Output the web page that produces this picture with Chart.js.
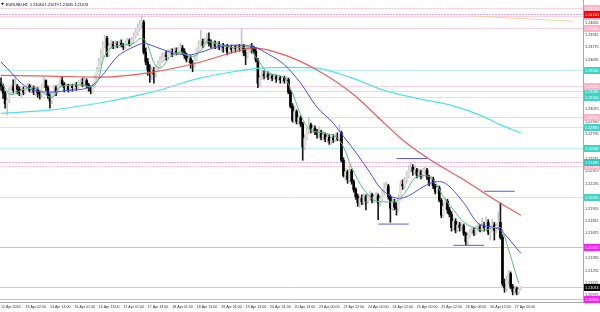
<!DOCTYPE html>
<html>
<head>
<meta charset="utf-8">
<script src="https://cdn.jsdelivr.net/npm/chart.js@4.4.1/dist/chart.umd.min.js"></script>
<style>
  html, body { margin: 0; padding: 0; background: #fff; overflow: hidden; }
  canvas { display: block; }
</style>
</head>
<body>
<canvas id="chart" width="600" height="312"></canvas>
<script>
// EURUSD H1 candles (one entry per hourly bar)
const openP = [
  1.2338,1.2334,1.2326,1.2314,1.2318,1.2327,1.2333,1.2329,1.2334,1.2330,1.2326,1.2329,1.2327,1.2332,1.2334,1.2329,
  1.2332,1.2327,1.2330,1.2326,1.2324,1.2334,1.2340,1.2332,1.2323,1.2317,1.2325,1.2332,1.2327,1.2334,1.2340,1.2336,
  1.2332,1.2335,1.2330,1.2334,1.2332,1.2335,1.2333,1.2337,1.2338,1.2336,1.2340,1.2335,1.2332,1.2328,1.2334,1.2343,
  1.2352,1.2361,1.2369,1.2380,1.2388,1.2369,1.2379,1.2381,1.2378,1.2381,1.2379,1.2382,1.2380,1.2378,1.2382,1.2385,
  1.2381,1.2386,1.2390,1.2395,1.2399,1.2403,1.2406,1.2372,1.2361,1.2352,1.2349,1.2352,1.2347,1.2354,1.2359,1.2363,
  1.2365,1.2369,1.2367,1.2371,1.2372,1.2370,1.2373,1.2372,1.2375,1.2377,1.2373,1.2368,1.2363,1.2365,1.2360,1.2358,
  1.2365,1.2375,1.2381,1.2384,1.2380,1.2384,1.2387,1.2382,1.2380,1.2382,1.2379,1.2381,1.2378,1.2380,1.2377,1.2379,
  1.2372,1.2377,1.2375,1.2378,1.2376,1.2378,1.2377,1.2379,1.2372,1.2368,1.2375,1.2378,1.2376,1.2373,1.2363,1.2337,
  1.2343,1.2347,1.2345,1.2347,1.2344,1.2345,1.2343,1.2344,1.2342,1.2343,1.2341,1.2343,1.2340,1.2341,1.2327,1.2311,
  1.2295,1.2305,1.2294,1.2298,1.2291,1.2265,1.2275,1.2282,1.2290,1.2284,1.2286,1.2282,1.2279,1.2282,1.2276,1.2279,
  1.2274,1.2276,1.2272,1.2275,1.2273,1.2276,1.2274,1.2281,1.2250,1.2233,1.2237,1.2228,1.2238,1.2226,1.2217,1.2209,
  1.2202,1.2207,1.2203,1.2209,1.2204,1.2209,1.2211,1.2205,1.2209,1.2210,1.2202,1.2207,1.2213,1.2219,1.2221,1.2209,
  1.2196,1.2203,1.2197,1.2195,1.2207,1.2223,1.2221,1.2228,1.2232,1.2239,1.2242,1.2237,1.2239,1.2233,1.2237,1.2232,
  1.2238,1.2239,1.2231,1.2224,1.2229,1.2221,1.2215,1.2219,1.2205,1.2188,1.2198,1.2204,1.2194,1.2189,1.2174,1.2181,
  1.2171,1.2177,1.2174,1.2176,1.2167,1.2158,1.2165,1.2169,1.2171,1.2168,1.2172,1.2175,1.2171,1.2177,1.2174,1.2180,
  1.2169,1.2174,1.2177,1.2171,1.2176,1.2180,1.2163,1.2111,1.2106,1.2115,1.2122,1.2107,1.2102,1.2105,1.2101,1.21044
];
const highP = [
  1.2343,1.2336,1.2328,1.2320,1.2332,1.2335,1.2341,1.2343,1.2336,1.2333,1.2332,1.2333,1.2334,1.2337,1.2336,1.2335,
  1.2334,1.2333,1.2332,1.2329,1.2336,1.2344,1.2341,1.2334,1.2325,1.2327,1.2335,1.2334,1.2336,1.2343,1.2344,1.2338,
  1.2337,1.2336,1.2336,1.2336,1.2337,1.2338,1.2340,1.2342,1.2343,1.2345,1.2342,1.2337,1.2334,1.2336,1.2346,1.2355,
  1.2365,1.2375,1.2384,1.2391,1.2390,1.2382,1.2386,1.2384,1.2385,1.2384,1.2385,1.2386,1.2382,1.2385,1.2388,1.2387,
  1.2389,1.2394,1.2399,1.2404,1.2408,1.2414,1.2408,1.2377,1.2365,1.2358,1.2356,1.2355,1.2358,1.2362,1.2367,1.2371,
  1.2372,1.2373,1.2375,1.2376,1.2376,1.2377,1.2377,1.2378,1.2382,1.2380,1.2376,1.2371,1.2369,1.2368,1.2363,1.2368,
  1.2377,1.2385,1.2397,1.2387,1.2388,1.2393,1.2394,1.2386,1.2385,1.2385,1.2384,1.2384,1.2382,1.2382,1.2381,1.2381,
  1.2379,1.2380,1.2380,1.2380,1.2381,1.2381,1.2399,1.2381,1.2376,1.2378,1.2381,1.2382,1.2379,1.2377,1.2365,1.2346,
  1.2352,1.2351,1.2350,1.2350,1.2349,1.2347,1.2346,1.2346,1.2346,1.2345,1.2345,1.2345,1.2344,1.2343,1.2329,1.2314,
  1.2312,1.2307,1.2302,1.2300,1.2293,1.2279,1.2286,1.2298,1.2292,1.2290,1.2289,1.2285,1.2288,1.2284,1.2283,1.2281,
  1.2280,1.2279,1.2277,1.2279,1.2280,1.2281,1.2290,1.2283,1.2253,1.2241,1.2239,1.2245,1.2240,1.2228,1.2219,1.2212,
  1.2210,1.2211,1.2212,1.2211,1.2212,1.2215,1.2213,1.2212,1.2214,1.2212,1.2210,1.2217,1.2224,1.2226,1.2223,1.2211,
  1.2207,1.2206,1.2202,1.2211,1.2227,1.2228,1.2231,1.2237,1.2244,1.2248,1.2245,1.2244,1.2241,1.2240,1.2239,1.2241,
  1.2242,1.2241,1.2233,1.2232,1.2231,1.2223,1.2222,1.2221,1.2207,1.2202,1.2207,1.2206,1.2197,1.2192,1.2185,1.2184,
  1.2181,1.2180,1.2179,1.2178,1.2169,1.2168,1.2172,1.2175,1.2174,1.2176,1.2178,1.2177,1.2185,1.2180,1.2186,1.2183,
  1.2177,1.2183,1.2180,1.2179,1.2192,1.2202,1.2166,1.2116,1.2119,1.2126,1.2124,1.2110,1.2108,1.2107,1.2106,1.21079
];
const lowP = [
  1.2329,1.2320,1.2309,1.2301,1.2315,1.2324,1.2326,1.2327,1.2325,1.2323,1.2321,1.2324,1.2325,1.2329,1.2327,1.2326,
  1.2324,1.2323,1.2321,1.2319,1.2321,1.2332,1.2329,1.2320,1.2309,1.2314,1.2323,1.2323,1.2325,1.2332,1.2333,1.2327,
  1.2329,1.2327,1.2327,1.2328,1.2329,1.2329,1.2330,1.2334,1.2333,1.2334,1.2332,1.2328,1.2325,1.2326,1.2332,1.2341,
  1.2350,1.2358,1.2365,1.2377,1.2367,1.2367,1.2376,1.2376,1.2376,1.2377,1.2377,1.2378,1.2375,1.2376,1.2380,1.2379,
  1.2379,1.2382,1.2388,1.2391,1.2396,1.2399,1.2370,1.2358,1.2346,1.2338,1.2341,1.2337,1.2344,1.2351,1.2355,1.2360,
  1.2362,1.2363,1.2364,1.2368,1.2367,1.2368,1.2369,1.2370,1.2371,1.2370,1.2365,1.2361,1.2360,1.2354,1.2350,1.2355,
  1.2363,1.2372,1.2378,1.2377,1.2378,1.2381,1.2379,1.2377,1.2377,1.2376,1.2376,1.2375,1.2373,1.2372,1.2373,1.2369,
  1.2370,1.2371,1.2372,1.2372,1.2373,1.2373,1.2375,1.2368,1.2358,1.2365,1.2372,1.2371,1.2370,1.2361,1.2332,1.2334,
  1.2341,1.2342,1.2343,1.2341,1.2342,1.2340,1.2341,1.2338,1.2340,1.2337,1.2338,1.2337,1.2337,1.2325,1.2309,1.2293,
  1.2292,1.2291,1.2290,1.2288,1.2250,1.2262,1.2273,1.2280,1.2281,1.2281,1.2279,1.2275,1.2275,1.2273,1.2273,1.2271,
  1.2270,1.2268,1.2268,1.2270,1.2271,1.2272,1.2273,1.2248,1.2231,1.2228,1.2224,1.2226,1.2223,1.2214,1.2206,1.2198,
  1.2197,1.2200,1.2200,1.2194,1.2201,1.2205,1.2202,1.2202,1.2205,1.2183,1.2198,1.2204,1.2210,1.2215,1.2206,1.2180,
  1.2193,1.2194,1.2188,1.2192,1.2205,1.2217,1.2218,1.2224,1.2230,1.2237,1.2233,1.2235,1.2230,1.2231,1.2229,1.2230,
  1.2235,1.2228,1.2221,1.2222,1.2218,1.2212,1.2213,1.2203,1.2185,1.2186,1.2195,1.2190,1.2186,1.2170,1.2171,1.2168,
  1.2169,1.2170,1.2171,1.2165,1.2154,1.2155,1.2162,1.2167,1.2165,1.2166,1.2170,1.2169,1.2169,1.2170,1.2171,1.2166,
  1.2160,1.2170,1.2160,1.2168,1.2172,1.2161,1.2108,1.2101,1.2102,1.2110,1.2105,1.2098,1.2099,1.2098,1.2099,1.21035
];
const closeP = [
  1.2334,1.2326,1.2314,1.2318,1.2327,1.2333,1.2329,1.2334,1.2330,1.2326,1.2329,1.2327,1.2332,1.2334,1.2329,1.2332,
  1.2327,1.2330,1.2326,1.2324,1.2334,1.2340,1.2332,1.2323,1.2317,1.2325,1.2332,1.2327,1.2334,1.2340,1.2336,1.2332,
  1.2335,1.2330,1.2334,1.2332,1.2335,1.2333,1.2337,1.2338,1.2336,1.2340,1.2335,1.2332,1.2328,1.2334,1.2343,1.2352,
  1.2361,1.2369,1.2380,1.2388,1.2369,1.2379,1.2381,1.2378,1.2381,1.2379,1.2382,1.2380,1.2378,1.2382,1.2385,1.2381,
  1.2386,1.2390,1.2395,1.2399,1.2403,1.2406,1.2372,1.2361,1.2352,1.2349,1.2352,1.2347,1.2354,1.2359,1.2363,1.2365,
  1.2369,1.2367,1.2371,1.2372,1.2370,1.2373,1.2372,1.2375,1.2377,1.2373,1.2368,1.2363,1.2365,1.2360,1.2358,1.2365,
  1.2375,1.2381,1.2384,1.2380,1.2384,1.2387,1.2382,1.2380,1.2382,1.2379,1.2381,1.2378,1.2380,1.2377,1.2379,1.2372,
  1.2377,1.2375,1.2378,1.2376,1.2378,1.2377,1.2379,1.2372,1.2368,1.2375,1.2378,1.2376,1.2373,1.2363,1.2337,1.2343,
  1.2347,1.2345,1.2347,1.2344,1.2345,1.2343,1.2344,1.2342,1.2343,1.2341,1.2343,1.2340,1.2341,1.2327,1.2311,1.2295,
  1.2305,1.2294,1.2298,1.2291,1.2265,1.2275,1.2282,1.2290,1.2284,1.2286,1.2282,1.2279,1.2282,1.2276,1.2279,1.2274,
  1.2276,1.2272,1.2275,1.2273,1.2276,1.2274,1.2281,1.2250,1.2233,1.2237,1.2228,1.2238,1.2226,1.2217,1.2209,1.2202,
  1.2207,1.2203,1.2209,1.2204,1.2209,1.2211,1.2205,1.2209,1.2210,1.2202,1.2207,1.2213,1.2219,1.2221,1.2209,1.2196,
  1.2203,1.2197,1.2195,1.2207,1.2223,1.2221,1.2228,1.2232,1.2239,1.2242,1.2237,1.2239,1.2233,1.2237,1.2232,1.2238,
  1.2239,1.2231,1.2224,1.2229,1.2221,1.2215,1.2219,1.2205,1.2188,1.2198,1.2204,1.2194,1.2189,1.2174,1.2181,1.2171,
  1.2177,1.2174,1.2176,1.2167,1.2158,1.2165,1.2169,1.2171,1.2168,1.2172,1.2175,1.2171,1.2177,1.2174,1.2180,1.2169,
  1.2174,1.2177,1.2171,1.2176,1.2180,1.2163,1.2111,1.2106,1.2115,1.2122,1.2107,1.2102,1.2105,1.2101,1.2104,1.21074
];

// moving averages, sampled where they could be read (bar index -> price)
const greenBars = [0,5,10,16,25,29,39,44,48,50,54,59,65,69,72,75,78,83,88,93,97,101,108,114,121,126,131,139,143,146,149,152,158,165,168,172,178,183,188,193,198,203,207,212,217,222,227,232,237,242,245,249,252,254];
const greenVals = [1.2338,1.2324,1.2329,1.2332,1.2321,1.2333,1.2335,1.2333,1.2343,1.2363,1.2377,1.2380,1.2382,1.2388,1.2380,1.2360,1.2354,1.2367,1.2372,1.2367,1.2371,1.2384,1.2380,1.2377,1.2378,1.2363,1.2349,1.2343,1.2326,1.2307,1.2292,1.2284,1.2281,1.2275,1.2265,1.2242,1.2217,1.2205,1.2203,1.2203,1.2213,1.2230,1.2233,1.2228,1.2209,1.2194,1.2180,1.2174,1.2171,1.2174,1.2174,1.2149,1.2126,1.2111];
const blueBars = [0,5,10,16,25,33,43,49,57,65,70,77,85,92,98,106,114,124,131,139,147,155,163,168,175,181,186,195,200,207,214,218,227,234,242,245,255];
const blueVals = [1.2361,1.2349,1.2337,1.2329,1.2327,1.2329,1.2332,1.2344,1.2367,1.2378,1.2382,1.2377,1.2371,1.2369,1.2372,1.2378,1.2380,1.2378,1.2370,1.2358,1.2337,1.2310,1.2292,1.2277,1.2256,1.2236,1.2219,1.2207,1.2210,1.2220,1.2226,1.2224,1.2202,1.2179,1.2174,1.2171,1.2145];
const redBars = [0,24,49,73,98,114,124,139,155,172,188,197,211,227,244,255];
const redVals = [1.2346,1.2345,1.2344,1.2349,1.2361,1.2372,1.2377,1.2369,1.2352,1.2326,1.2292,1.2273,1.2250,1.2228,1.2203,1.2188];
const cyanBars = [0,25,49,74,98,114,127,142,155,172,188,204,221,235,245,255];
const cyanVals = [1.2303,1.2307,1.2315,1.2327,1.2343,1.2350,1.2354,1.2355,1.2354,1.2343,1.2329,1.2320,1.2312,1.2301,1.2290,1.2281];

// short blue high/low markers: [fromBar, toBar] and price
const markSpans = [[185, 200], [194, 209], [222, 237], [237, 252]];
const markVals = [1.2178, 1.2252, 1.2154, 1.2215];
const trendBars = [230, 281];
const trendVals = [1.2413, 1.2407];

// horizontal levels
const cyanLevels = [1.2352, 1.2328, 1.2321, 1.2288, 1.2264, 1.2209];
const pinkLevels = [1.2422, 1.2413, 1.2399, 1.2334, 1.2299, 1.2244];
const magentaLevels = [1.2152, 1.2093];
const redDashLevels = [1.2415];
const tealDashLevels = [1.2248];

// axes
const yTicks = [1.24195,1.24055,1.23915,1.23775,1.23635,1.23495,1.23355,1.23215,1.23075,1.22935,1.22795,1.22655,1.22515,1.22375,1.22235,1.22095,1.21955,1.21815,1.21675,1.21535,1.21395,1.21255,1.21115,1.20975];
const tickBars = [0,12,24,36,48,60,72,84,96,108,120,132,144,156,168,180,192,204,216,228,240,252];
const tickLabels = ["12 Apr 2018","13 Apr 02:00","13 Apr 14:00","16 Apr 01:00","16 Apr 13:00","17 Apr 01:00","17 Apr 13:00","18 Apr 01:00","18 Apr 13:00","19 Apr 01:00","19 Apr 13:00","20 Apr 01:00","20 Apr 13:00","23 Apr 00:00","23 Apr 12:00","24 Apr 00:00","24 Apr 12:00","25 Apr 00:00","25 Apr 12:00","26 Apr 00:00","26 Apr 12:00","27 Apr 00:00"];
const symbol = "EURUSD,H1";

const FONT = '"Liberation Sans", Arial, sans-serif';
const bars = openP.map((_, i) => i);
const last = bars.length - 1;
const bull = bars.map(i => closeP[i] >= openP[i]);

const pts = (xs, ys) => xs.map((x, k) => ({ x: x, y: ys[k] }));
const maLine = (xs, ys, color, w) => ({
  type: "line", data: pts(xs, ys), borderColor: color, borderWidth: w,
  pointRadius: 0, cubicInterpolationMode: "monotone", order: 0
});

const datasets = [
  maLine(greenBars, greenVals, "#5cb87a", 1),
  maLine(blueBars, blueVals, "#4a4af0", 1),
  maLine(redBars, redVals, "#f05a5a", 1.2),
  maLine(cyanBars, cyanVals, "#4fe3e3", 1.2),
  maLine(trendBars, trendVals, "#f3d2a6", 1),
];
markSpans.forEach((s, k) => {
  datasets.push({
    type: "line", data: pts(s, [markVals[k], markVals[k]]),
    borderColor: "#5a5af0", borderWidth: 1, pointRadius: 0, order: 0
  });
});
datasets.push({
  type: "bar", data: bars.map(i => ({ x: i, y: [openP[i], closeP[i]] })),
  backgroundColor: bars.map(i => bull[i] ? "#dedede" : "#000000"),
  barThickness: 2, minBarLength: 1, grouped: false, order: 1
});
datasets.push({
  type: "bar", data: bars.map(i => ({ x: i, y: [lowP[i], highP[i]] })),
  backgroundColor: bars.map(i => bull[i] ? "#c6c6c6" : "#1a1a1a"),
  barThickness: 1, grouped: false, order: 2
});

// level lines under the candles, price boxes and title on top
const levelGroups = [
  { vals: cyanLevels, line: "#bdf3ef", box: "#3fd3c4", dash: false },
  { vals: pinkLevels, line: "#ffd0dd", box: "#ffb3c6", dash: false },
  { vals: magentaLevels, line: "#ff99ff", box: "#ff1aff", dash: false },
  { vals: redDashLevels, line: "#f6a8ea", box: "#ff0000", dash: true },
  { vals: tealDashLevels, line: "#f6a8ea", box: "#2fc7b8", dash: true },
];

const levelsPlugin = {
  id: "levels",
  beforeDatasetsDraw(chart) {
    const { ctx, chartArea: a, scales: { y } } = chart;
    ctx.save();
    ctx.lineWidth = 1;
    levelGroups.forEach(g => {
      ctx.strokeStyle = g.line;
      ctx.setLineDash(g.dash ? [2, 1] : []);
      g.vals.forEach(v => {
        const py = Math.round(y.getPixelForValue(v)) + 0.5;
        ctx.beginPath(); ctx.moveTo(a.left, py); ctx.lineTo(a.right, py); ctx.stroke();
      });
    });
    ctx.setLineDash([]);
    ctx.strokeStyle = "#cccccc";
    const bp = Math.round(y.getPixelForValue(closeP[last])) + 0.5;
    ctx.beginPath(); ctx.moveTo(a.left, bp); ctx.lineTo(a.right, bp); ctx.stroke();
    ctx.restore();
  },
  afterDraw(chart) {
    const { ctx, chartArea: a, scales: { y } } = chart;
    ctx.save();
    ctx.font = "3.8px " + FONT;
    ctx.textBaseline = "middle";
    const box = (v, color) => {
      const py = Math.round(y.getPixelForValue(v));
      ctx.fillStyle = color;
      ctx.fillRect(a.right + 1, py - 3, chart.width - a.right - 1, 7);
      ctx.fillStyle = "#ffffff";
      ctx.fillText(v.toFixed(5), a.right + 2, py + 0.5);
    };
    levelGroups.forEach(g => g.vals.forEach(v => box(v, g.box)));
    box(closeP[last], "#000000");

    // title
    ctx.fillStyle = "#000";
    ctx.beginPath(); ctx.moveTo(1, 3); ctx.lineTo(4, 3); ctx.lineTo(2.5, 5); ctx.closePath(); ctx.fill();
    const q = [openP[last], highP[last], lowP[last], closeP[last]].map(v => v.toFixed(5)).join(" ");
    ctx.fillText(symbol + "  " + q, 6, 4.5);
    ctx.restore();
  }
};

new Chart(document.getElementById("chart"), {
  type: "bar",
  data: { datasets: datasets },
  plugins: [levelsPlugin],
  options: {
    responsive: false,
    animation: false,
    devicePixelRatio: 1,
    layout: { padding: 0 },
    plugins: { legend: { display: false }, tooltip: { enabled: false } },
    scales: {
      x: {
        type: "linear", min: -0.5, max: 285.5, offset: false,
        grid: { display: false, drawTicks: false },
        border: { display: true, color: "#a8a8a8" },
        afterBuildTicks: s => { s.ticks = tickBars.map(v => ({ value: v })); },
        afterFit: s => { s.height = 10; s.paddingLeft = 0; s.paddingRight = 0; },
        ticks: {
          autoSkip: false, maxRotation: 0, align: "start", padding: 3,
          color: "#333", font: { size: 3.6, family: FONT },
          callback: v => tickLabels[tickBars.indexOf(v)]
        }
      },
      y: {
        type: "linear", position: "right", min: 1.2090, max: 1.2431, beginAtZero: false,
        grid: { display: false, drawTicks: false },
        border: { display: true, color: "#a8a8a8" },
        afterBuildTicks: s => { s.ticks = yTicks.map(v => ({ value: v })); },
        afterFit: s => { s.width = 17; s.paddingTop = 0; s.paddingBottom = 0; },
        ticks: {
          autoSkip: false, padding: 2, crossAlign: "near",
          color: "#333", font: { size: 3.8, family: FONT },
          callback: v => v.toFixed(5)
        }
      }
    }
  }
});
</script>
</body>
</html>
